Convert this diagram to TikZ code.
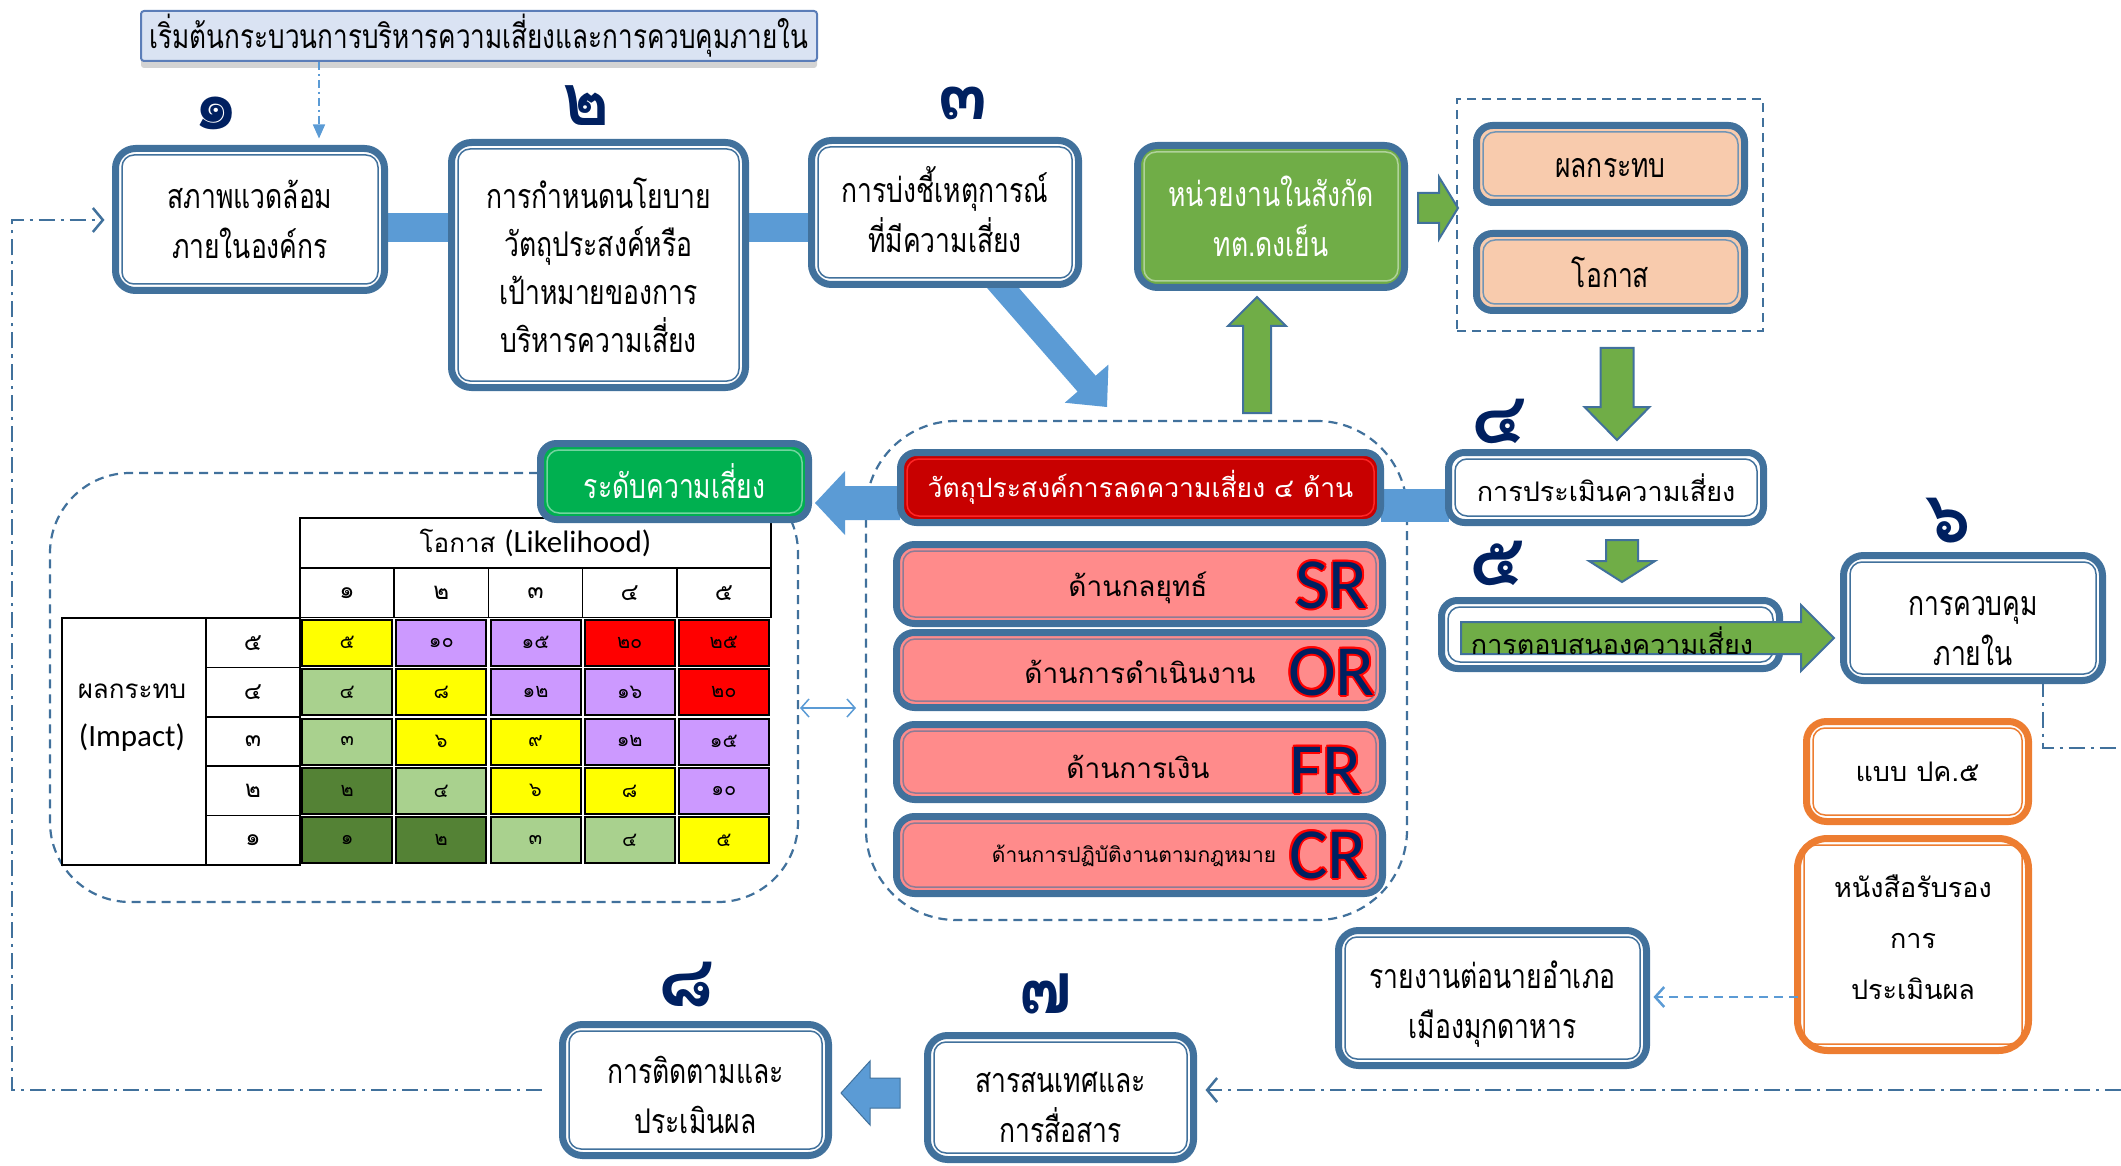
\documentclass[tikz,border=0pt]{standalone}
\usepackage{fontspec}
\usetikzlibrary{arrows.meta,shadows,calc,backgrounds}
\newfontfamily\lomaf[Script=Thai]{Loma}
\newfontfamily\lomnf[Script=Thai,FakeStretch=0.78]{Loma}
\newfontfamily\carlf{Carlito}
\newcommand\fsz[2]{\fontsize{#1}{#2}\selectfont}
\definecolor{bord}{HTML}{41719C}
\definecolor{lblue}{HTML}{5B9BD5}
\definecolor{agreen}{HTML}{70AD47}
\definecolor{bgreen}{HTML}{00B050}
\definecolor{dred}{HTML}{C80000}
\definecolor{pinkf}{HTML}{FF8B8B}
\definecolor{peach}{HTML}{F8CBAD}
\definecolor{orng}{HTML}{ED7D31}
\definecolor{navy}{HTML}{002060}
\definecolor{ttlf}{HTML}{DAE3F3}
\definecolor{ttlb}{HTML}{5B7DB8}
\definecolor{my}{HTML}{FFFF00}
\definecolor{mp}{HTML}{CC99FF}
\definecolor{mr}{HTML}{FF0000}
\definecolor{mlg}{HTML}{A9D18E}
\definecolor{mdg}{HTML}{548235}
% block arrow: style, x1, y1, x2, y2, half shaft, half head, head length
\newcommand\blkarrow[8]{%
  \pgfmathsetmacro\bal{veclen(#4-#2,#5-#3)}%
  \pgfmathsetmacro\bab{\bal-#8}%
  \pgfmathsetmacro\baa{atan2(#3-#5,#4-#2)}%
  \begin{scope}[shift={(#2,#3)},rotate=\baa]
    \path[#1] (0pt,#6pt) -- (\bab pt,#6pt) -- (\bab pt,#7pt) -- (\bal pt,0pt)
      -- (\bab pt,-#7pt) -- (\bab pt,-#6pt) -- (0pt,-#6pt) -- cycle;
  \end{scope}}
\begin{document}
\begin{tikzpicture}[x=1pt,y=-1pt,
  bx/.style={rectangle, rounded corners=20pt, draw=bord, line width=7pt, fill=white,
    inner sep=0pt, outer sep=0pt, align=center, font=\lomnf\fsz{34}{50}},
  btxt/.style={inner sep=0pt, align=center, font=\lomnf\fsz{34}{50}},
  region/.style={draw=bord, line width=2.2pt, dash pattern=on 9pt off 6pt, inner sep=0pt, outer sep=0pt},
  dd/.style={draw=bord, line width=2.5pt, dash pattern=on 16pt off 6pt on 3pt off 6pt},
  barb/.style={-{Straight Barb[length=10pt,width=24pt]}},
  numl/.style={font=\lomaf\bfseries\fsz{72}{72}, text=navy, inner sep=0pt},
  cell/.style={draw=black, line width=2pt, minimum width=90pt, minimum height=46pt, inner sep=0pt, font=\lomaf\fsz{20}{20}},
  mline/.style={draw=black, line width=1.5pt, inner sep=0pt, outer sep=0pt},
  letr/.style={font=\carlf\fsz{72}{72}, inner sep=0pt, anchor=east},
  gar/.style={fill=agreen, draw=bord, line width=2pt},
]
\useasboundingbox (0,0) rectangle (2121,1166);

% ---------- title ----------
\node[draw=ttlb, fill=ttlf, line width=2pt, rounded corners=3pt, minimum width=676pt, minimum height=50pt,
  inner sep=0pt, font=\lomnf\fsz{33.5}{36},
  drop shadow={shadow xshift=0pt, shadow yshift=-7pt, opacity=0.35}] (ttl) at (479,36)
  {เริ่มต้นกระบวนการบริหารความเสี่ยงและการควบคุมภายใน};

% ---------- matrix ----------
\node[mline, minimum width=471pt, minimum height=50pt, font=\lomaf\fsz{26}{26}] (lh) at (535.5,543) {โอกาส {\carlf\fsz{31}{31}(Likelihood)}};
\foreach \c/\t in {1/๑,2/๒,3/๓,4/๔,5/๕}
  \node[mline, minimum width=94.2pt, minimum height=49.4pt, font=\lomaf\fsz{24}{24}] (h\c) at ({300+94.2*(\c-0.5)},592.7) {\t};
\node[mline, minimum width=144pt, minimum height=247pt] (imp) at (134,741.5) {};
\node[inner sep=0pt, align=center, font=\lomaf\fsz{26}{48}] (impt) at (132,718) {ผลกระทบ\\{\carlf\fsz{31}{31}(Impact)}};
\foreach \r/\t in {5/๕,4/๔,3/๓,2/๒,1/๑}
  \node[mline, minimum width=94pt, minimum height=49.4pt, font=\lomaf\fsz{24}{24}] (r\r) at (253,{618+49.4*(5.5-\r)}) {\t};
\foreach \c/\r/\col/\t in {1/5/my/๕, 2/5/mp/๑๐, 3/5/mp/๑๕, 4/5/mr/๒๐, 5/5/mr/๒๕,
  1/4/mlg/๔, 2/4/my/๘, 3/4/mp/๑๒, 4/4/mp/๑๖, 5/4/mr/๒๐,
  1/3/mlg/๓, 2/3/my/๖, 3/3/my/๙, 4/3/mp/๑๒, 5/3/mp/๑๕,
  1/2/mdg/๒, 2/2/mlg/๔, 3/2/my/๖, 4/2/my/๘, 5/2/mp/๑๐,
  1/1/mdg/๑, 2/1/mdg/๒, 3/1/mlg/๓, 4/1/mlg/๔, 5/1/my/๕}
  \node[cell, fill=\col] (m\c\r) at ({300+94.2*(\c-0.5)},{618+49.4*(5.5-\r)}) {\t};

% ---------- boxes ----------
\node[bx, minimum width=269pt, minimum height=142pt] (b1) at (250,219.5) {สภาพแวดล้อม\\ภายในองค์กร};
\node[bx, minimum width=294pt, minimum height=245pt, font=\lomnf\fsz{34}{48}] (b2) at (598.5,265)
  {การกำหนดนโยบาย\\วัตถุประสงค์หรือ\\เป้าหมายของการ\\บริหารความเสี่ยง};
\node[bx, minimum width=267pt, minimum height=144pt] (b3) at (945,212.5) {};
\node[btxt] (b3t) at (945,210) {การบ่งชี้เหตุการณ์\\ที่มีความเสี่ยง};
\node[bx, fill=agreen, text=white, minimum width=267pt, minimum height=142pt] (grn) at (1271,216.5) {หน่วยงานในสังกัด\\ทต.ดงเย็น};
\node[bx, fill=peach, rounded corners=16pt, minimum width=268pt, minimum height=77pt] (p1) at (1610.5,164) {};
\node[btxt] (p1t) at (1610.5,168) {ผลกระทบ};
\node[bx, fill=peach, rounded corners=16pt, minimum width=268pt, minimum height=77pt] (p2) at (1610.5,272) {โอกาส};
\node[bx, font=\lomaf\fsz{27}{40}, rounded corners=16pt, minimum width=315pt, minimum height=70pt] (b4) at (1606,487.5) {การประเมินความเสี่ยง};
\node[bx, rounded corners=16pt, minimum width=338pt, minimum height=68pt] (b5) at (1610.5,634.5) {};
\node[bx, minimum width=259pt, minimum height=125pt] (b6) at (1973,618) {};
\node[btxt] (b6t) at (1973,631) {การควบคุม\\ภายใน};
\node[bx, draw=orng, font=\lomaf\fsz{27}{40}, minimum width=222pt, minimum height=100pt] (o1) at (1917.5,771.5) {แบบ ปค.๕};
\node[bx, draw=orng, rounded corners=30pt, minimum width=231pt, minimum height=212pt] (o2) at (1913,944.5) {};
\node[btxt, font=\lomaf\fsz{27}{51}] (o2t) at (1913,937) {หนังสือรับรอง\\การ\\ประเมินผล};
\node[bx, minimum width=308pt, minimum height=135pt] (rep) at (1492.5,998) {};
\node[btxt] (rept) at (1492.5,1004) {รายงานต่อนายอำเภอ\\เมืองมุกดาหาร};
\node[bx, minimum width=266pt, minimum height=124pt] (b7) at (1060.5,1097.5) {};
\node[btxt] (b7t) at (1060.5,1107) {สารสนเทศและ\\การสื่อสาร};
\node[bx, minimum width=266pt, minimum height=131pt] (b8) at (695.5,1090) {};
\node[btxt] (b8t) at (695.5,1095) {การติดตามและ\\ประเมินผล};
\node[bx, fill=dred, text=white, font=\lomaf\fsz{26.5}{40}, rounded corners=16pt, minimum width=480pt, minimum height=70pt] (red) at (1140.5,487.5)
  {วัตถุประสงค์การลดความเสี่ยง ๔ ด้าน};
\node[bx, fill=bgreen, text=white, rounded corners=16pt, minimum width=268pt, minimum height=76pt] (lvl) at (674.5,481.5) {ระดับความเสี่ยง};
\node[bx, fill=pinkf, font=\lomaf\fsz{28}{40}, rounded corners=18pt, minimum width=486pt, minimum height=79pt] (pSR) at (1139.5,584) {};
\node[bx, fill=pinkf, font=\lomaf\fsz{28}{40}, rounded corners=18pt, minimum width=486pt, minimum height=75pt] (pOR) at (1139.5,670) {};
\node[bx, fill=pinkf, font=\lomaf\fsz{28}{40}, rounded corners=18pt, minimum width=486pt, minimum height=75pt] (pFR) at (1139.5,762) {};
\node[bx, fill=pinkf, font=\lomaf\fsz{22}{40}, rounded corners=18pt, minimum width=486pt, minimum height=77pt] (pCR) at (1139.5,855) {};
\node[btxt, font=\lomaf\fsz{28}{40}] (tSR) at (1138,588) {ด้านกลยุทธ์};
\node[btxt, font=\lomaf\fsz{28}{40}] (tOR) at (1140,672) {ด้านการดำเนินงาน};
\node[btxt, font=\lomaf\fsz{28}{40}] (tFR) at (1138,767) {ด้านการเงิน};
\node[btxt, font=\lomaf\fsz{21}{40}] (tCR) at (1134,856) {ด้านการปฏิบัติงานตามกฎหมาย};

% inner thin lines of the double borders
\foreach \n/\c in {b1/bord, b2/bord, b3/bord, grn/agreen!55!white, p1/bord!75!white, p2/bord!75!white,
  b4/bord, b5/bord, b6/bord, o1/orng, o2/orng, rep/bord, b7/bord, b8/bord, red/red!85!white,
  lvl/bgreen!55!white, pSR/bord!60!pinkf, pOR/bord!60!pinkf, pFR/bord!60!pinkf, pCR/bord!60!pinkf}
  \draw[draw=\c, line width=1.5pt, rounded corners=12pt]
    ([shift={(6.5pt,6.5pt)}]\n.south west) rectangle ([shift={(-6.5pt,-6.5pt)}]\n.north east);

% SR / OR / FR / CR letters with red outline
\foreach \L/\y/\xx in {SR/585/1368, OR/672/1375, FR/770/1362, CR/855/1367}{
  \foreach \k/\dx/\dy in {1/2/0, 2/-2/0, 3/0/2, 4/0/-2, 5/1.5/1.5, 6/-1.5/1.5, 7/1.5/-1.5, 8/-1.5/-1.5}
    \node[letr, text=red] (l\L o\k) at ([shift={(\dx pt,\dy pt)}]\xx,\y) {\L};
  \node[letr, text=navy] (l\L) at (\xx,\y) {\L};
}

% green arrow over box 5, then its text
\blkarrow{gar}{1461}{638}{1834}{638}{16}{33}{33}
\node[font=\lomaf\fsz{27}{40}, inner sep=0pt] (b5t) at (1612,641) {การตอบสนองความเสี่ยง};

% ---------- step numbers ----------
\foreach \n/\x/\y/\t in {1/216/113/๑, 2/586/106/๒, 3/963/103/๓, 4/1499/421/๔, 5/1497/563/๕, 6/1948/521/๖, 7/1046/994/๗, 8/686/985/๘}
  \node[numl] (n\n) at (\x,\y) {\t};

% ---------- background: regions, bars, block arrows ----------
\begin{pgfonlayer}{background}
  \node[region, minimum width=748pt, minimum height=429pt, rounded corners=80pt] (regM) at (424,687.5) {};
  \node[region, minimum width=541pt, minimum height=499pt, rounded corners=90pt] (regR) at (1136.5,670.5) {};
  \node[region, minimum width=306pt, minimum height=232pt] (regP) at (1610,215) {};
  \coordinate (bar1) at (0,227.5);
  \coordinate (bar2) at (0,505.5);
  \draw[lblue, line width=29pt] (b1.east |- bar1) -- (b2.west |- bar1);
  \draw[lblue, line width=29pt] (b2.east |- bar1) -- (b3.west |- bar1);
  \draw[lblue, line width=33pt] (red.east |- bar2) -- (b4.west |- bar2);
  \blkarrow{fill=lblue}{996}{280}{1107}{407}{12}{29}{31}
  \blkarrow{gar}{1257}{413}{1257}{297}{14}{29}{29}
  \blkarrow{gar}{1418}{208}{1458}{208}{15}{31}{19}
  \blkarrow{gar}{1617}{348}{1617}{440}{16.5}{32.5}{33}
  \blkarrow{gar}{1622}{540}{1622}{582}{16}{33}{21}
  \blkarrow{fill=lblue}{900}{503}{815}{503}{17}{32}{30}
  \blkarrow{fill=lblue, draw=bord, line width=1pt}{900}{1093}{841}{1093}{15}{32}{29}
\end{pgfonlayer}

% ---------- thin connectors ----------
\coordinate (tx) at (319,0);
\draw[lblue, line width=1.5pt, dash pattern=on 8pt off 4pt on 2pt off 4pt,
  -{Triangle[length=14pt,width=12pt]}, shorten >=10pt] (ttl.south -| tx) -- (b1.north -| tx);
\coordinate (y708) at (0,708);
\draw[lblue, line width=1.5pt, {Straight Barb[length=8pt,width=18pt]}-{Straight Barb[length=8pt,width=18pt]},
  shorten <=2pt, shorten >=10pt] (regM.east |- y708) -- (regR.west |- y708);
\coordinate (rE1) at (2121,1090);
\draw[dd, barb, shorten >=12pt] (rE1) -- (b7.east |- rE1);
\coordinate (lp1) at (12,1090);
\coordinate (lp2) at (12,220);
\draw[dd, barb, shorten <=21pt, shorten >=11pt] (b8.west |- lp1) -- (lp1) -- (lp2) -- (b1.west |- lp2);
\coordinate (r6) at (2043,748);
\coordinate (rE2) at (2121,748);
\draw[dd, line width=2pt] (b6.south -| r6) -- (r6) -- (rE2);
\coordinate (y997) at (0,997);
\draw[lblue, line width=2.5pt, dash pattern=on 9pt off 6pt, -{Straight Barb[length=9pt,width=20pt]}, shorten >=7pt]
  (o2.west |- y997) -- (rep.east |- y997);
\end{tikzpicture}
\end{document}
